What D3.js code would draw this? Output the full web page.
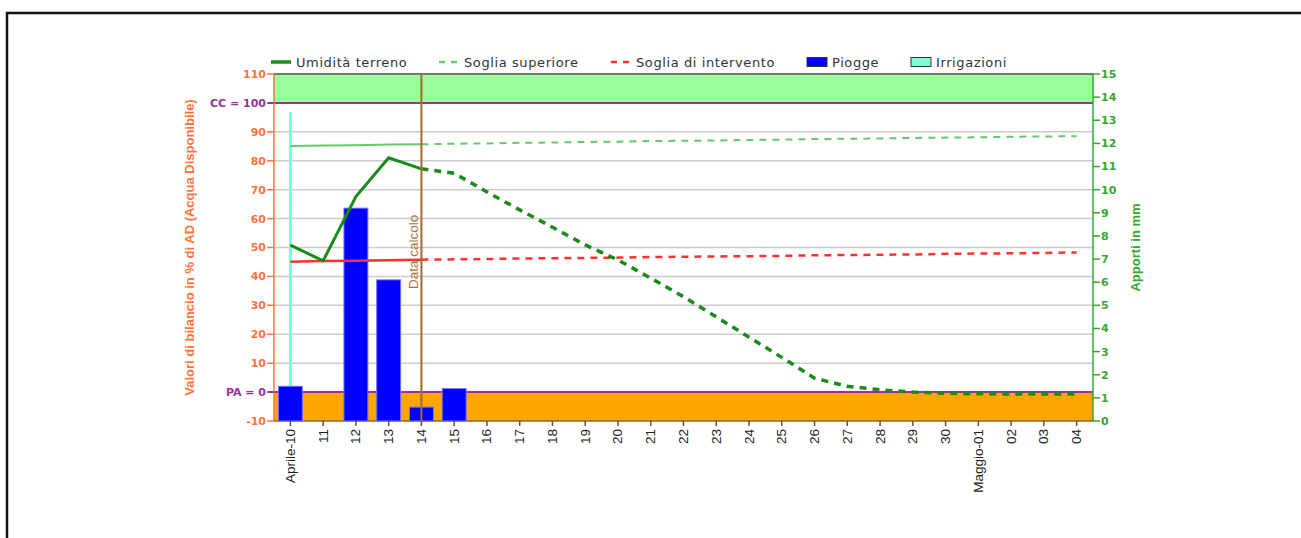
<!DOCTYPE html>
<html>
<head>
<meta charset="utf-8">
<script src="https://cdn.jsdelivr.net/npm/d3@7"></script>
<style>
  body { margin: 0; background: #fff; }
  svg { display: block; }
</style>
</head>
<body>
<svg id="chart" width="1301" height="538"></svg>
<script>
// chart data
var days = ["Aprile-10", "11", "12", "13", "14", "15", "16", "17", "18", "19", "20", "21", "22",
  "23", "24", "25", "26", "27", "28", "29", "30", "Maggio-01", "02", "03", "04"];
var umidita = [50.8, 45.4, 67.6, 81, 77.2, 75.7, 69.2, 63, 57, 50.9, 45.7, 39.4, 33,
  26, 19, 12, 4.8, 2, 0.8, 0, -0.4, -0.6, -0.7, -0.7, -0.7];
var sogliaSup = [85.1, 85.3, 85.4, 85.6, 85.7, 85.9, 86.0, 86.2, 86.3, 86.5, 86.6, 86.8, 86.9,
  87.0, 87.2, 87.3, 87.5, 87.6, 87.7, 87.9, 88.0, 88.1, 88.3, 88.4, 88.5];
var sogliaInt = [45.1, 45.3, 45.4, 45.6, 45.8, 45.9, 46.0, 46.2, 46.3, 46.4, 46.5, 46.7, 46.8,
  46.9, 47.0, 47.1, 47.3, 47.4, 47.5, 47.6, 47.8, 47.9, 48.0, 48.1, 48.3];
var piogge = [1.5, 0, 9.2, 6.1, 0.6, 1.4, 0, 0, 0, 0, 0, 0, 0, 0, 0, 0, 0, 0, 0, 0, 0, 0, 0, 0, 0];
var irrigazioni = [13.35, 0, 0, 0, 0, 0, 0, 0, 0, 0, 0, 0, 0, 0, 0, 0, 0, 0, 0, 0, 0, 0, 0, 0, 0];
var dataCalcolo = "14";
var leftTicks = [-10, 0, 10, 20, 30, 40, 50, 60, 70, 80, 90, 100, 110];
var rightTicks = [0, 1, 2, 3, 4, 5, 6, 7, 8, 9, 10, 11, 12, 13, 14, 15];

var svg = d3.select("#chart");
var pLeft = 274, pRight = 1093, pTop = 74, pBottom = 421;
var calcIdx = days.indexOf(dataCalcolo);

var x = d3.scaleBand().domain(days).range([pLeft, pRight]).paddingInner(0.27).paddingOuter(0.135);
var xc = d => x(d) + x.bandwidth() / 2;
var yL = d3.scaleLinear().domain([-10, 110]).range([pBottom, pTop]);
var yR = d3.scaleLinear().domain([0, 15]).range([pBottom, pTop]);

var orange = "#ff7340", green = "#33a833", purple = "#993399";
var sans = "Liberation Sans, Arial, sans-serif", verd = "DejaVu Sans, Verdana, sans-serif";

// outer frame
svg.append("path").attr("d", "M7,540 V13 H1305").attr("fill", "none")
  .attr("stroke", "#111").attr("stroke-width", 2.5);

// bands
svg.append("rect").attr("x", pLeft).attr("y", yL(110)).attr("width", pRight - pLeft)
  .attr("height", yL(100) - yL(110)).attr("fill", "#99ff99");
svg.append("rect").attr("x", pLeft).attr("y", yL(0)).attr("width", pRight - pLeft)
  .attr("height", yL(-10) - yL(0)).attr("fill", "#ffa500");

// grid
svg.append("g").selectAll("line").data(leftTicks.filter(d => d > 0 && d < 100)).enter()
  .append("line")
  .attr("x1", pLeft).attr("x2", pRight)
  .attr("y1", d => yL(d)).attr("y2", d => yL(d))
  .attr("stroke", "#cccccc").attr("stroke-width", 1.5);

// top / bottom borders and purple limits
svg.append("line").attr("x1", pLeft).attr("x2", pRight).attr("y1", pTop).attr("y2", pTop)
  .attr("stroke", "#777").attr("stroke-width", 2);
svg.append("line").attr("x1", pLeft).attr("x2", pRight).attr("y1", pBottom).attr("y2", pBottom)
  .attr("stroke", "#8a6a2a").attr("stroke-width", 1.5);
[100, 0].forEach(function (v) {
  svg.append("line").attr("x1", pLeft - 6).attr("x2", pRight).attr("y1", yL(v)).attr("y2", yL(v))
    .attr("stroke", purple).attr("stroke-width", 2);
});

// irrigazioni (thin) and piogge bars on the right axis
var bars = svg.append("g");
bars.selectAll("rect.irr").data(days).enter().append("rect")
  .attr("class", "irr")
  .attr("x", d => xc(d) - 1.5).attr("width", 3)
  .attr("y", (d, i) => yR(irrigazioni[i]))
  .attr("height", (d, i) => yR(0) - yR(irrigazioni[i]))
  .attr("fill", "#7fffd4");
bars.selectAll("rect.rain").data(days.filter((d, i) => piogge[i] > 0)).enter().append("rect")
  .attr("class", "rain")
  .attr("x", d => x(d)).attr("width", x.bandwidth())
  .attr("y", d => yR(piogge[days.indexOf(d)]))
  .attr("height", d => yR(0) - yR(piogge[days.indexOf(d)]))
  .attr("fill", "#0000ff").attr("stroke", "#6f6fff").attr("stroke-width", 1);

// lines, solid up to data calcolo, dashed after
function drawSeries(vals, color, width, solidPart) {
  var line = d3.line().x(d => xc(days[d.i])).y(d => yL(d.v));
  var pts = vals.map((v, i) => ({ i: i, v: v }));
  svg.append("path").datum(pts.slice(0, calcIdx + 1)).attr("d", line)
    .attr("fill", "none").attr("stroke", color).attr("stroke-width", solidPart);
  svg.append("path").datum(pts.slice(calcIdx)).attr("d", line)
    .attr("fill", "none").attr("stroke", color).attr("stroke-width", width)
    .attr("stroke-dasharray", "7,6");
}
drawSeries(sogliaSup, "#66c866", 2, 2);
drawSeries(sogliaInt, "#ff3030", 2.5, 2.5);
drawSeries(umidita, "#1a8a1a", 3.5, 3);

// data calcolo
svg.append("line").attr("x1", xc(dataCalcolo)).attr("x2", xc(dataCalcolo))
  .attr("y1", pTop).attr("y2", pBottom)
  .attr("stroke", "#a5692e").attr("stroke-width", 2);
svg.append("text").attr("transform", "translate(" + (xc(dataCalcolo) - 3) + ",289) rotate(-90)")
  .attr("font-family", sans).attr("font-size", 13.5)
  .attr("fill", "#a5753f").text("Data calcolo");

// left axis
var gl = svg.append("g");
gl.append("line").attr("x1", pLeft).attr("x2", pLeft).attr("y1", pTop).attr("y2", pBottom)
  .attr("stroke", orange).attr("stroke-width", 1.5);
gl.selectAll("line.t").data(leftTicks).enter().append("line").attr("class", "t")
  .attr("x1", pLeft - 7).attr("x2", pLeft).attr("y1", d => yL(d)).attr("y2", d => yL(d))
  .attr("stroke", d => (d == 0 || d == 100) ? purple : orange).attr("stroke-width", 1.5);
gl.selectAll("text").data(leftTicks).enter().append("text")
  .attr("x", pLeft - 8).attr("y", d => yL(d)).attr("dy", "0.36em")
  .attr("text-anchor", "end")
  .attr("font-family", verd).attr("font-size", 11).attr("font-weight", "bold")
  .attr("fill", d => (d == 0 || d == 100) ? purple : orange)
  .text(d => d == 100 ? "CC = 100" : d == 0 ? "PA = 0" : d);
svg.append("text").attr("transform", "translate(194," + ((pTop + pBottom) / 2) + ") rotate(-90)")
  .attr("text-anchor", "middle")
  .attr("font-family", sans).attr("font-size", 13)
  .attr("font-weight", "bold").attr("fill", orange)
  .text("Valori di bilancio in % di AD (Acqua Disponibile)");

// right axis
var gr = svg.append("g");
gr.append("line").attr("x1", pRight).attr("x2", pRight).attr("y1", pTop).attr("y2", pBottom)
  .attr("stroke", green).attr("stroke-width", 1.5);
gr.selectAll("line.t").data(rightTicks).enter().append("line").attr("class", "t")
  .attr("x1", pRight).attr("x2", pRight + 7).attr("y1", d => yR(d)).attr("y2", d => yR(d))
  .attr("stroke", green).attr("stroke-width", 1.5);
gr.selectAll("text").data(rightTicks).enter().append("text")
  .attr("x", pRight + 8).attr("y", d => yR(d)).attr("dy", "0.36em")
  .attr("font-family", verd).attr("font-size", 11).attr("font-weight", "bold")
  .attr("fill", green).text(d => d);
svg.append("text").attr("transform", "translate(1140," + ((pTop + pBottom) / 2) + ") rotate(-90)")
  .attr("text-anchor", "middle")
  .attr("font-family", sans).attr("font-size", 13)
  .attr("font-weight", "bold").attr("fill", green).text("Apporti in mm");

// x axis
var gx = svg.append("g");
gx.selectAll("line").data(days).enter().append("line")
  .attr("x1", d => xc(d)).attr("x2", d => xc(d)).attr("y1", pBottom).attr("y2", pBottom + 5)
  .attr("stroke", "#555").attr("stroke-width", 1.5);
gx.selectAll("text").data(days).enter().append("text")
  .attr("transform", d => "translate(" + (xc(d) + 4.5) + "," + (pBottom + 8) + ") rotate(-90)")
  .attr("text-anchor", "end")
  .attr("font-family", sans).attr("font-size", 13.5)
  .attr("fill", "#222").text(d => d);

// legend
var legend = [
  { name: "Umidità terreno", type: "line", color: "#1a8a1a", x: 271 },
  { name: "Soglia superiore", type: "dash", color: "#66c866", x: 439 },
  { name: "Soglia di intervento", type: "dash", color: "#ff3030", x: 611 },
  { name: "Piogge", type: "rect", color: "#0000ff", x: 807 },
  { name: "Irrigazioni", type: "rect", color: "#7fffd4", x: 911 }
];
var lg = svg.append("g").selectAll("g").data(legend).enter().append("g");
lg.each(function (d) {
  var g = d3.select(this);
  if (d.type == "rect") {
    g.append("rect").attr("x", d.x).attr("y", 57.5).attr("width", 20).attr("height", 9)
      .attr("fill", d.color).attr("stroke", "#333").attr("stroke-width", 1);
  } else {
    g.append("line").attr("x1", d.x).attr("x2", d.x + 20).attr("y1", 62).attr("y2", 62)
      .attr("stroke", d.color).attr("stroke-width", d.type == "line" ? 3.5 : 2.5)
      .attr("stroke-dasharray", d.type == "dash" ? "6,6" : null);
  }
  g.append("text").attr("x", d.x + 25).attr("y", 66.5)
    .attr("font-family", verd).attr("font-size", 13).attr("letter-spacing", 0.6)
    .attr("fill", "#333").text(d.name);
});
</script>
</body>
</html>
